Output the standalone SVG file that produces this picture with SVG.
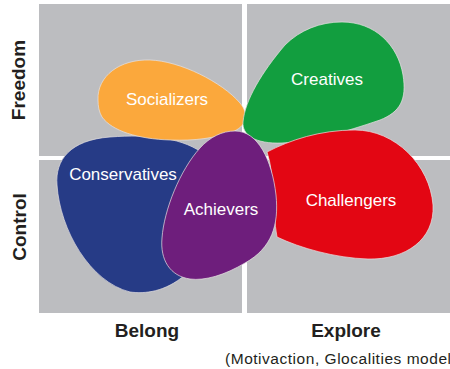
<svg xmlns="http://www.w3.org/2000/svg" width="450" height="369" viewBox="0 0 450 369">
  <style>
    .quad { fill: #bcbdc0; }
    .blob { stroke: #e6e2e2; stroke-width: 0.7; }
    .lbl { font-family: "Liberation Sans", Arial, sans-serif; font-size: 17px; fill: #ffffff; text-anchor: middle; }
    .axis { font-family: "Liberation Sans", Arial, sans-serif; font-size: 19px; font-weight: bold; fill: #231f20; text-anchor: middle; }
    .note { font-family: "Liberation Sans", Arial, sans-serif; font-size: 15.5px; fill: #231f20; }
  </style>
  <rect width="450" height="369" fill="#ffffff"/>

  <!-- quadrant background -->
  <g id="quadrants">
    <rect class="quad" x="39" y="4" width="203" height="152"/>
    <rect class="quad" x="247" y="4" width="203" height="152"/>
    <rect class="quad" x="39" y="160" width="203" height="153"/>
    <rect class="quad" x="247" y="160" width="203" height="153"/>
  </g>

  <!-- segments -->
  <g id="conservatives">
    <path class="blob" fill="#263b86" d="M57,185 C55,160 70,140 110,137 C150,134 185,138 205,155 C215,200 215,250 185,275 C165,292 145,294 130,292 C90,282 60,230 57,185 Z"/>
    <text class="lbl" x="123" y="180">Conservatives</text>
  </g>
  <g id="socializers">
    <path class="blob" fill="#fba83c" d="M98,100 C97,76 120,59 150,60 C180,61 222,82 240,103 C250,115 246,127 232,132 C215,138 195,141 170,140 C138,139 112,131 102,117 C99,112 98,106 98,100 Z"/>
    <text class="lbl" x="167" y="105">Socializers</text>
  </g>
  <g id="creatives">
    <path class="blob" fill="#129e3f" d="M342,22 C375,22 398,45 403,75 C407,100 400,112 380,120 C345,132 310,142 282,143 C255,144 242,135 243,122 C245,100 262,72 285,45 C300,30 320,22 342,22 Z"/>
    <text class="lbl" x="327" y="85">Creatives</text>
  </g>
  <g id="challengers">
    <path class="blob" fill="#e30613" d="M267,152 C290,140 320,130 355,130 C395,130 430,165 433,205 C435,240 405,260 368,259 C335,258 300,248 277,237 C272,210 275,175 267,152 Z"/>
    <text class="lbl" x="351" y="206">Challengers</text>
  </g>
  <g id="achievers">
    <path class="blob" fill="#6e1e7c" d="M235,131 C258,131 272,160 276,195 C279,225 272,248 245,263 C225,275 205,281 190,279 C170,276 160,260 162,238 C164,210 180,170 200,148 C210,137 222,131 235,131 Z"/>
    <text class="lbl" x="221" y="215">Achievers</text>
  </g>

  <!-- axis labels -->
  <g id="axes">
    <text class="axis" transform="translate(25,80) rotate(-90)">Freedom</text>
    <text class="axis" transform="translate(25.5,227) rotate(-90)">Control</text>
    <text class="axis" x="147" y="337">Belong</text>
    <text class="axis" x="346" y="337">Explore</text>
  </g>
  <text class="note" x="225" y="364" textLength="226" lengthAdjust="spacing">(Motivaction, Glocalities model</text>
</svg>
